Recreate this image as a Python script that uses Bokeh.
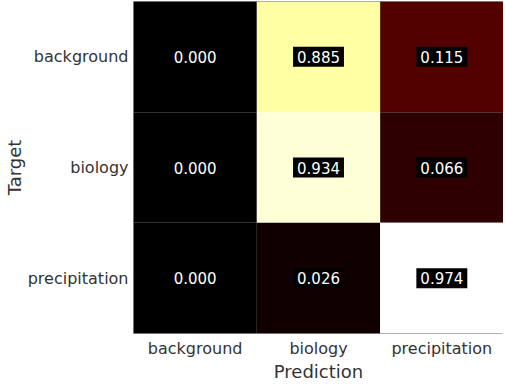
from bokeh.plotting import figure
from bokeh.models import ColumnDataSource, LinearColorMapper, FactorRange
from bokeh.core.properties import value
from bokeh.transform import transform
from bokeh.embed import file_html
from bokeh.resources import INLINE

classes = ["background", "biology", "precipitation"]
targets = ["background", "background", "background",
           "biology", "biology", "biology",
           "precipitation", "precipitation", "precipitation"]
predictions = ["background", "biology", "precipitation"] * 3
values = [0.000, 0.885, 0.115,
          0.000, 0.934, 0.066,
          0.000, 0.026, 0.974]

# matplotlib-like "hot" colormap
def hot_palette(n=256):
    pal = []
    for i in range(n):
        x = i / (n - 1)
        r = min(max(x / 0.365079, 0), 1)
        g = min(max((x - 0.365079) / (0.746032 - 0.365079), 0), 1)
        b = min(max((x - 0.746032) / (1 - 0.746032), 0), 1)
        pal.append("#%02x%02x%02x" % (int(r * 255), int(g * 255), int(b * 255)))
    return pal

src = ColumnDataSource(dict(
    target=targets, pred=predictions, val=values,
    label=["%.3f" % v for v in values],
))
mapper = LinearColorMapper(palette=hot_palette(), low=0, high=max(values))

p = figure(frame_width=370, frame_height=332,
           x_range=FactorRange(*classes),
           y_range=FactorRange(*classes[::-1]),
           output_backend="svg", toolbar_location=None,
           min_border_left=0, min_border_right=0,
           min_border_top=1, min_border_bottom=0)

p.rect(x="pred", y="target", width=1, height=1, source=src,
       fill_color=transform("val", mapper), line_color=None)

p.text(x="pred", y="target", text="label", source=src,
       text_align="center", text_baseline="middle",
       text_color="white", text_font=value("DejaVu Sans"),
       text_font_size="15px",
       background_fill_color="black", padding=4)

p.outline_line_color = "#999999"
p.grid.grid_line_color = None
for ax in (p.xaxis[0], p.yaxis[0]):
    ax.axis_line_color = None
    ax.major_tick_line_color = None
    ax.minor_tick_line_color = None
    ax.major_tick_out = 0
    ax.major_tick_in = 0
    ax.minor_tick_out = 0
    ax.major_label_text_font = "DejaVu Sans"
    ax.major_label_text_font_size = "16px"
    ax.major_label_text_color = "#333333"
    ax.axis_label_text_font = "DejaVu Sans"
    ax.axis_label_text_font_size = "18px"
    ax.axis_label_text_font_style = "normal"
    ax.axis_label_text_color = "#333333"
p.xaxis.axis_label = "Prediction"
p.yaxis.axis_label = "Target"
p.xaxis.major_label_standoff = 5
p.xaxis.axis_label_standoff = 0
p.yaxis.major_label_standoff = 5
p.yaxis.axis_label_standoff = 0

open("out.html", "w").write(file_html(p, INLINE))
